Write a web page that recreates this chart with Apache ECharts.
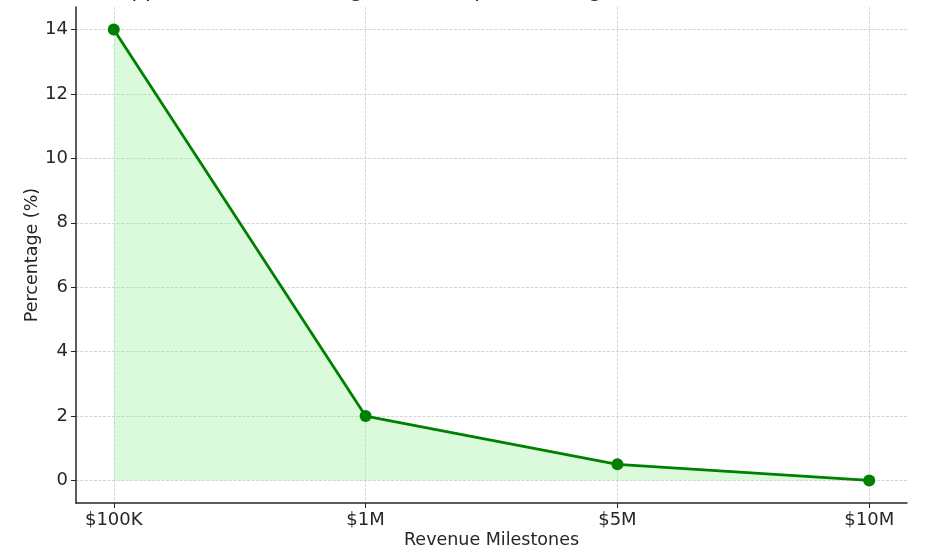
<!DOCTYPE html>
<html><head><meta charset="utf-8">
<script src="https://cdn.jsdelivr.net/npm/echarts@6/dist/echarts.min.js"></script>
<style>html,body{margin:0;padding:0;background:#fff}#c{width:936px;height:560px}</style>
</head><body><div id="c"></div>
<script>
const categories = ['$100K', '$1M', '$5M', '$10M'];
const percentages = [14, 2, 0.5, 0];
const yTicks = [0, 2, 4, 6, 8, 10, 12, 14];
const xTicks = [0, 1, 2, 3];
const titleText = 'Approximate Percentage of Startups Reaching Revenue Milestones';

const chart = echarts.init(document.getElementById('c'));
const txt = '#262626';
const font = 'DejaVu Sans';
chart.setOption({
  animation: false,
  title: { text: titleText, left: 'center', top: -24, textStyle: { fontFamily: font, fontSize: 21, fontWeight: 'normal', color: txt } },
  grid: { left: 76, right: 29, top: 7, bottom: 57, containLabel: false },
  xAxis: {
    type: 'value', min: -0.15, max: 3.15,
    name: 'Revenue Milestones', nameLocation: 'middle', nameGap: 28, nameMoveOverlap: false,
    nameTextStyle: { fontFamily: font, fontSize: 17.5, color: txt },
    axisLine: { show: true, onZero: false, lineStyle: { color: '#262626', width: 1.5 } },
    axisTick: { show: true, customValues: xTicks, length: 5, lineStyle: { color: '#262626' } },
    axisLabel: { customValues: xTicks, fontFamily: font, fontSize: 18, color: txt, margin: 8,
      formatter: v => categories[Math.round(v)] },
    splitLine: { show: true, customValues: xTicks, lineStyle: { color: '#cccccc', type: [3, 1.5], width: 0.8 } }
  },
  yAxis: {
    type: 'value', min: -0.7, max: 14.7,
    name: 'Percentage (%)', nameLocation: 'middle', nameGap: 35, nameMoveOverlap: false,
    nameTextStyle: { fontFamily: font, fontSize: 17.5, color: txt },
    axisLine: { show: true, onZero: false, lineStyle: { color: '#262626', width: 1.5 } },
    axisTick: { show: true, customValues: yTicks, length: 5, lineStyle: { color: '#262626' } },
    axisLabel: { customValues: yTicks, fontFamily: font, fontSize: 18, color: txt, margin: 8 },
    splitLine: { show: true, customValues: yTicks, lineStyle: { color: '#cccccc', type: [3, 1.5], width: 0.8 } }
  },
  series: [{
    type: 'line',
    data: percentages.map((v, i) => [i, v]),
    symbol: 'circle', symbolSize: 12,
    itemStyle: { color: '#008000' },
    lineStyle: { color: '#008000', width: 2.8 },
    areaStyle: { color: 'rgba(144,238,144,0.32)', opacity: 1, origin: 0 }
  }]
});
</script></body></html>
